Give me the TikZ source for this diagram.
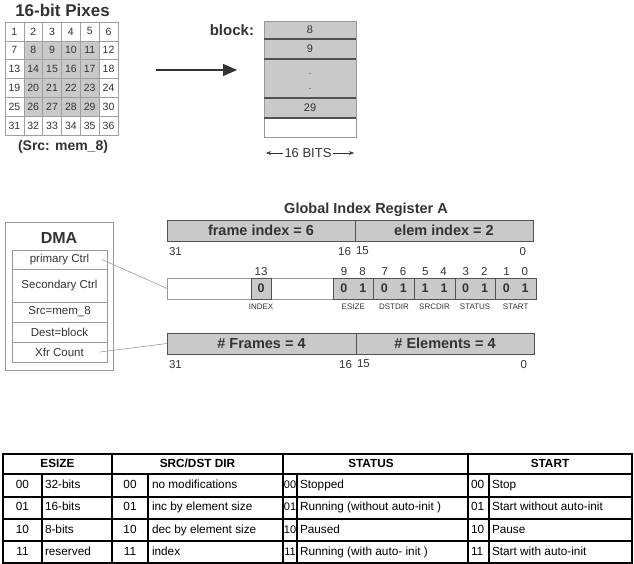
\documentclass[tikz,border=0pt]{standalone}
\usepackage{fontspec}
\setmainfont{Liberation Sans}
\usepackage{tikz}
\usetikzlibrary{positioning,arrows.meta}

\definecolor{regfill}{gray}{0.79}
\definecolor{regline}{gray}{0.32}
\definecolor{boxline}{gray}{0.6}
\definecolor{txt}{gray}{0.2}

\begin{document}
\begin{tikzpicture}[x=1pt, y=-1pt,
  every node/.style={align=center, inner sep=0pt, outer sep=0pt, text=txt},
  pix/.style={draw=gray!75, minimum width=18.8pt, minimum height=18.8pt, font=\fontsize{10.5}{10.5}\selectfont},
  blk/.style={minimum width=92pt, fill=regfill, font=\fontsize{11}{11}\selectfont},
  divl/.style={regline, line width=1.2pt},
  fld/.style={draw=boxline, fill=white, minimum width=95pt, font=\fontsize{11.5}{11.5}\selectfont},
  reg/.style={draw=regline, fill=regfill, minimum height=21pt, font=\bfseries\fontsize{14.5}{14.5}\selectfont},
  wreg/.style={draw=boxline, fill=white, minimum height=21pt},
  seg/.style={draw=regline, fill=regfill, minimum height=21pt, font=\bfseries\fontsize{12.5}{12.5}\selectfont},
  bitno/.style={font=\fontsize{11.5}{11.5}\selectfont},
  fname/.style={font=\fontsize{8}{8}\selectfont},
  conn/.style={draw=boxline, line width=0.6pt},
  tline/.style={black, line width=1.1pt},
  tcell/.style={font=\fontsize{11.8}{11.8}\selectfont, text=black, text height=8.5pt, text depth=2.5pt},
  thead/.style={font=\bfseries\fontsize{11.8}{11.8}\selectfont, text=black, text height=8.5pt, text depth=2.5pt}
]
\useasboundingbox (0,0) rectangle (634,564);

% source pixels
\foreach \r in {1,...,6}
  \foreach \c in {1,...,6} {
    \pgfmathtruncatemacro\n{6*(\r-1)+\c}
    \pgfmathtruncatemacro\inn{(\r>1)*(\r<6)*(\c>1)*(\c<6)}
    \ifnum\inn=1 \def\cf{regfill}\else\def\cf{white}\fi
    \node[pix, fill=\cf] (p\n) at ({5+18.83*(\c-0.5)},{22+18.83*(\r-0.5)}) {\n};
  }
\node[font=\bfseries\fontsize{17}{17}\selectfont] (pixttl) at (62.5,10) {16-bit Pixes};
\node[font=\bfseries\fontsize{14}{14}\selectfont] (srcttl) at (63,147) {(Src: mem\_8)};

\coordinate (mvS) at (156,70);
\coordinate (mvE) at (237,70);
\draw[line width=1.4pt, black!80, -{Triangle[length=14pt, width=12pt]}] (mvS) -- (mvE);

% destination block
\node[blk, minimum height=18pt] (b8) at (310,30) {8};
\node[blk, minimum height=20pt, below=0pt of b8] (b9) {9};
\node[blk, minimum height=39pt, below=0pt of b9] (bdots) {};
\node[font=\fontsize{9}{15}\selectfont] (dts) at ([yshift=-3.5pt]bdots.center) {.\\.};
\node[blk, minimum height=20pt, below=0pt of bdots] (b29) {29};
\node[blk, minimum height=19pt, below=0pt of b29, fill=white] (bfree) {};
\draw[boxline, line width=0.7pt] (b8.north west) rectangle (bfree.south east);
\foreach \k in {b8,b9,bdots,b29} \draw[divl] (\k.south west) -- (\k.south east);
\node[font=\bfseries\fontsize{15}{15}\selectfont, anchor=east] (blocklbl) at ([xshift=-10pt]b8.west) {block:};

\node[font=\fontsize{13}{13}\selectfont, inner xsep=2pt] (bits) at (308,153) {16 BITS};
\coordinate (bitsL) at (266,153);
\coordinate (bitsR) at (354,153);
\draw[-{Stealth[length=5pt]}, black!80] (bits) -- (bitsL);
\draw[-{Stealth[length=5pt]}, black!80] (bits) -- (bitsR);

% DMA channel
\node[draw=boxline, line width=0.7pt, minimum width=108pt, minimum height=148pt] (dma) at (59,296) {};
\node[font=\bfseries\fontsize{16}{16}\selectfont, below=10pt of dma.north] (dmattl) {DMA};
\node[fld, minimum height=19pt] (dprim) at (59.5,259.5) {primary Ctrl};
\node[fld, minimum height=33pt, below=0pt of dprim] (dsec) {Secondary Ctrl};
\node[fld, minimum height=20pt, below=0pt of dsec] (dsrc) {Src=mem\_8};
\node[fld, minimum height=20pt, below=0pt of dsrc] (ddst) {Dest=block};
\node[fld, minimum height=20pt, below=0pt of ddst] (dxfr) {Xfr Count};

% global index register
\node[font=\bfseries\fontsize{14.5}{14.5}\selectfont] (gttl) at (366,210) {Global Index Register A};
\node[reg, minimum width=188pt] (fidx) at (261,230.5) {frame index = 6};
\node[reg, minimum width=178pt, right=0pt of fidx] (eidx) {elem index = 2};
\node[bitno, below right=6pt and 2pt of fidx.south west] (g31) {31};
\node[bitno, below left=6pt and 4pt of fidx.south east] (g16) {16};
\node[bitno, below right=6pt and 1pt of eidx.south west] (g15) {15};
\node[bitno, below left=6pt and 7pt of eidx.south east] (g0) {0};

% primary control
\node[wreg, minimum width=84pt] (cw1) at (209,288.5) {};
\node[wreg, minimum width=62pt, right=20pt of cw1] (cw2) {};
\node[seg, minimum width=20pt, right=0pt of cw1,
  label={[bitno, label distance=2.5pt]above:13},
  label={[fname, label distance=5pt]below:INDEX}] (cidx) {0};
\foreach \nm/\hi/\lo/\va/\vb/\lbl [remember=\nm as \prev (initially cw2)] in
  {ces/9/8/0/1/ESIZE, cdst/7/6/0/1/DSTDIR, csrc/5/4/1/1/SRCDIR, csta/3/2/0/1/STATUS, cstr/1/0/0/1/START}
  \node[seg, minimum width=40.6pt, right=0pt of \prev,
    label={[bitno, label distance=2.5pt]above:\hi\hspace{12pt}\lo},
    label={[fname, label distance=5pt]below:\lbl}] (\nm) {\va\hspace{12pt}\vb};

% transfer count
\node[reg, minimum width=189pt] (nfr) at (261.5,343.5) {\# Frames = 4};
\node[reg, minimum width=178pt, right=0pt of nfr] (nel) {\# Elements = 4};
\node[bitno, below right=6pt and 2pt of nfr.south west] (n31) {31};
\node[bitno, below left=6pt and 4pt of nfr.south east] (n16) {16};
\node[bitno, below right=6pt and 1pt of nel.south west] (n15) {15};
\node[bitno, below left=6pt and 7pt of nel.south east] (n0) {0};

\coordinate (pcS) at ([xshift=-5pt]dprim.east);
\coordinate (xcS) at ([xshift=-7pt]dxfr.east);
\draw[conn] (pcS) -- (cw1.west);
\draw[conn] (xcS) -- (nfr.west);

% field encodings
\draw[tline] (3,454) rectangle (632,563);
\foreach \y in {474,497,519,541} \draw[tline] (3,\y) -- (632,\y);
\foreach \x in {112,283,468} \draw[tline] (\x,454) -- (\x,563);
\foreach \x in {42,148,297,489} \draw[tline] (\x,474) -- (\x,563);
\node[thead] (hes) at (57.5,464) {ESIZE};
\node[thead] (hdir) at (197.5,464) {SRC/DST DIR};
\node[thead] (hst) at (371,464) {STATUS};
\node[thead] (hstr) at (550,464) {START};
\foreach \cd/\es/\dir/\st/\sa [count=\i] in
  {00/32-bits/no modifications/Stopped/Stop,
   01/16-bits/inc by element size/Running (without auto-init )/Start without auto-init,
   10/8-bits/dec by element size/Paused/Pause,
   11/reserved/index/Running (with auto- init )/Start with auto-init} {
  \pgfmathsetmacro\yy{463.5+22.2*\i}
  \node[tcell] (ea\i) at (22.5,\yy) {\cd};
  \node[tcell, anchor=west] (eb\i) at (45,\yy) {\es};
  \node[tcell] (da\i) at (130,\yy) {\cd};
  \node[tcell, anchor=west] (db\i) at (152,\yy) {\dir};
  \node[tcell, font=\fontsize{11}{11}\selectfont] (sa\i) at (290,\yy) {\cd};
  \node[tcell, anchor=west] (sb\i) at (300,\yy) {\st};
  \node[tcell, anchor=west] (ta\i) at (471,\yy) {\cd};
  \node[tcell, anchor=west] (tb\i) at (492,\yy) {\sa};
}
\end{tikzpicture}
\end{document}
